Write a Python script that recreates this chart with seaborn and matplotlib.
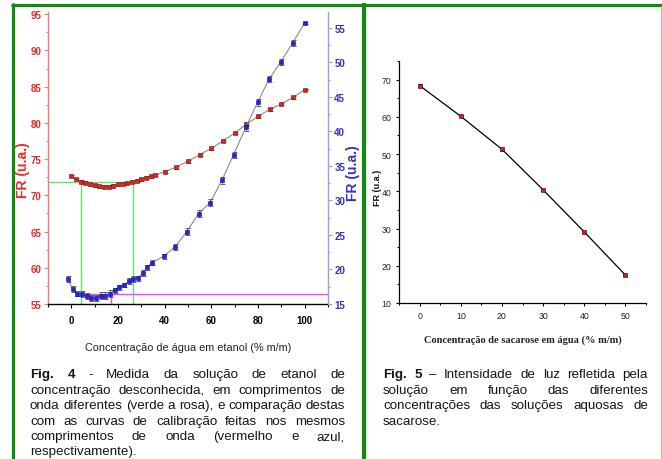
import matplotlib
matplotlib.use("Agg")
import matplotlib.pyplot as plt
from matplotlib.lines import Line2D
from matplotlib.ticker import MultipleLocator
import seaborn as sns
import pandas as pd

# ---------------- data ----------------
# Fig. 4 - red calibration curve (left axis)
red_x = [0, 2, 4, 6, 8, 10, 12, 14, 16, 18, 20, 22, 24, 26, 28, 30, 32, 34, 36,
         40, 45, 50, 55, 60, 65, 70, 75, 80, 85, 90, 95, 100]
red_fr = [72.66, 72.24, 71.87, 71.74, 71.55, 71.37, 71.23, 71.2, 71.2, 71.3, 71.5,
          71.6, 71.7, 71.9, 72.0, 72.2, 72.4, 72.6, 72.8, 73.25, 73.9, 74.7, 75.6,
          76.5, 77.5, 78.6, 79.8, 80.9, 81.85, 82.6, 83.5, 84.6]
red_err = [0.12, 0.18, 0.18, 0.18, 0.2, 0.2, 0.25, 0.25, 0.2, 0.2, 0.2, 0.2, 0.2,
           0.2, 0.2, 0.2, 0.2, 0.2, 0.2, 0.2, 0.2, 0.2, 0.2, 0.2, 0.2, 0.2, 0.25,
           0.25, 0.2, 0.2, 0.2, 0.12]
# Fig. 4 - blue calibration curve (right axis)
blue_x = [-1.5, 0.5, 2.5, 4.5, 6.5, 8.5, 10.5, 12.5, 14.5, 16.5, 18.5, 20.5, 22.5,
          24.5, 26.5, 28.5, 30.5, 32.5, 34.5, 39.5, 44.5, 49.5, 54.5, 59.5, 64.5,
          69.5, 74.8, 79.8, 84.8, 89.8, 94.8, 100]
blue_fr = [18.6, 17.2, 16.5, 16.4, 16.2, 15.9, 15.9, 16.2, 16.2, 16.5, 17.0, 17.4,
           17.7, 18.3, 18.6, 18.7, 19.5, 20.3, 21.0, 21.9, 23.3, 25.5, 28.1, 29.7,
           32.9, 36.6, 40.6, 44.2, 47.6, 50.1, 52.8, 55.7]
blue_err = [0.45, 0.45, 0.4, 0.45, 0.45, 0.4, 0.4, 0.5, 0.5, 0.5, 0.35, 0.3, 0.3,
            0.45, 0.45, 0.3, 0.4, 0.4, 0.4, 0.4, 0.45, 0.45, 0.45, 0.45, 0.45,
            0.45, 0.5, 0.5, 0.45, 0.45, 0.4, 0.15]
# unknown sample readings (green / pink guide lines)
green_fr = 71.9
green_conc = [4.3, 26.3]
pink_fr = 16.45
pink_conc = [4.3, 17.1]

# Fig. 5 - sucrose
suc_x = [0, 10, 20, 30, 40, 50]
suc_fr = [68.4, 60.15, 51.3, 40.4, 29.1, 17.5]
suc_err = [0.3, 0.3, 0.35, 0.35, 0.35, 0.3]

# ---------------- style ----------------
sns.set_theme(style="ticks")
plt.rcParams['font.family'] = ['Liberation Sans', 'DejaVu Sans']

W, H = 662, 460
fig = plt.figure(figsize=(W / 100, H / 100), dpi=100)
fig.patch.set_facecolor('white')


def rect(l, t, r, b):
    return [l / W, 1 - b / H, (r - l) / W, (b - t) / H]


RED_SP = '#f07a7a'
RED_TX = '#e62a2a'
BLUE_SP = '#9d9de6'
BLUE_TX = '#3232c8'
LINE_GRAY = '#8c8c8c'

# ---------------- Fig. 4 ----------------
ax1 = fig.add_axes(rect(48, 13, 328, 305))
ax2 = ax1.twinx()
ax1.set_facecolor('none')

df_red = pd.DataFrame({'x': red_x, 'y': red_fr})
df_blue = pd.DataFrame({'x': blue_x, 'y': blue_fr})

ax1.set_xlim(-10, 110)
ax1.set_ylim(55, 95.3)
ax2.set_ylim(15, 57.3)

# guide lines
ax1.plot([-10, green_conc[1]], [green_fr, green_fr], color='#66e066', lw=1.0, zorder=1)
for gx in green_conc:
    ax1.plot([gx, gx], [55, green_fr], color='#66e066', lw=1.0, zorder=1)
ax2.plot([pink_conc[0], 110], [pink_fr, pink_fr], color='#ff44ff', lw=1.0, zorder=1)
ax2.plot([pink_conc[1], pink_conc[1]], [15, pink_fr], color='#ff44ff', lw=1.0, zorder=1)

sns.lineplot(data=df_red, x='x', y='y', ax=ax1, color=LINE_GRAY, lw=0.8,
             estimator=None, sort=False, zorder=2)
ax1.errorbar(red_x, red_fr, yerr=red_err, fmt='none', ecolor='#505050',
             elinewidth=0.6, capsize=1.8, capthick=0.6, zorder=3)
sns.scatterplot(data=df_red, x='x', y='y', ax=ax1, marker='s', s=7,
                color='#dd2222', edgecolor='#7a1515', linewidth=0.4, zorder=4)

sns.lineplot(data=df_blue, x='x', y='y', ax=ax2, color=LINE_GRAY, lw=0.8,
             estimator=None, sort=False, zorder=2)
ax2.errorbar(blue_x, blue_fr, yerr=blue_err, fmt='none', ecolor='#505050',
             elinewidth=0.6, capsize=1.8, capthick=0.6, zorder=3)
sns.scatterplot(data=df_blue, x='x', y='y', ax=ax2, marker='s', s=7,
                color='#2222ee', edgecolor='#101080', linewidth=0.4, zorder=4)

for a in (ax1, ax2):
    a.spines['top'].set_visible(False)
ax1.spines['right'].set_visible(False)
ax2.spines['left'].set_visible(False)
ax2.spines['bottom'].set_visible(False)
ax1.spines['left'].set_color(RED_SP)
ax1.spines['left'].set_linewidth(1.0)
ax2.spines['right'].set_color(BLUE_SP)
ax2.spines['right'].set_linewidth(1.0)
ax1.spines['bottom'].set_color('black')
ax1.spines['bottom'].set_linewidth(1.0)

ax1.xaxis.set_minor_locator(MultipleLocator(10))
ax1.set_xticks([0, 20, 40, 60, 80, 100])
ax1.yaxis.set_minor_locator(MultipleLocator(2.5))
ax2.yaxis.set_minor_locator(MultipleLocator(2.5))
ax1.set_yticks([55, 60, 65, 70, 75, 80, 85, 90, 95])
ax2.set_yticks([15, 20, 25, 30, 35, 40, 45, 50, 55])

ax1.tick_params(axis='x', which='major', direction='out', length=3, width=0.8,
                color='black', labelcolor='black', pad=5, labelsize=7)
ax1.tick_params(axis='x', which='minor', direction='out', length=2, width=0.8,
                color='black')
ax1.tick_params(axis='y', which='major', direction='out', length=3, width=0.8,
                color=RED_SP, labelcolor=RED_TX, pad=1.5, labelsize=7)
ax1.tick_params(axis='y', which='minor', direction='out', length=1.5, width=0.8,
                color=RED_SP)
ax2.tick_params(axis='y', which='major', direction='out', length=3, width=0.8,
                color=BLUE_SP, labelcolor=BLUE_TX, pad=1.5, labelsize=7)
ax2.tick_params(axis='y', which='minor', direction='out', length=1.5, width=0.8,
                color=BLUE_SP)
for lab in ax1.get_xticklabels() + ax1.get_yticklabels() + ax2.get_yticklabels():
    lab.set_fontweight('bold')

ax1.set_xlabel('Concentração de água em etanol (% m/m)', fontsize=7.8,
               color='#222222')
ax1.xaxis.set_label_coords(0.5, (305 - 348) / 292)
ax1.xaxis.label.set_va('center')
ax1.set_ylabel('FR (u.a.)', fontsize=10, fontweight='bold', color=RED_TX)
ax1.yaxis.set_label_coords((23 - 48) / 280, (305 - 170) / 292)
ax1.yaxis.label.set_va('center')
ax2.set_ylabel('FR (u.a.)', fontsize=10, fontweight='bold', color=BLUE_TX,
               rotation=90)
ax2.yaxis.set_label_coords((353 - 48) / 280, (305 - 173) / 292)
ax2.yaxis.label.set_va('center')

# ---------------- Fig. 5 ----------------
ax3 = fig.add_axes(rect(399, 62, 646, 304))
df_suc = pd.DataFrame({'x': suc_x, 'y': suc_fr})
sns.lineplot(data=df_suc, x='x', y='y', ax=ax3, color='black', lw=0.9,
             estimator=None, sort=False, zorder=2)
ax3.errorbar(suc_x, suc_fr, yerr=suc_err, fmt='none', ecolor='#202020',
             elinewidth=0.6, capsize=1.6, capthick=0.6, zorder=3)
sns.scatterplot(data=df_suc, x='x', y='y', ax=ax3, marker='s', s=5,
                color='#cc2020', edgecolor='#300000', linewidth=0.4, zorder=4)
ax3.set_xlim(-5, 55)
ax3.set_ylim(10, 75)
ax3.set_xticks([0, 10, 20, 30, 40, 50])
ax3.set_yticks([10, 20, 30, 40, 50, 60, 70])
ax3.xaxis.set_minor_locator(MultipleLocator(5))
ax3.yaxis.set_minor_locator(MultipleLocator(5))
ax3.spines['top'].set_visible(False)
ax3.spines['right'].set_visible(False)
for s in ('left', 'bottom'):
    ax3.spines[s].set_color('black')
    ax3.spines[s].set_linewidth(0.9)
ax3.tick_params(which='major', direction='out', length=2.5, width=0.8,
                color='black', labelsize=6.3, pad=3)
ax3.tick_params(which='minor', direction='out', length=1.5, width=0.7,
                color='black')
ax3.set_xlabel('Concentração de sacarose em água (% m/m)', fontsize=7.5,
               fontweight='bold', family=['Liberation Serif', 'DejaVu Serif'],
               color='#222222')
ax3.xaxis.set_label_coords(0.5, (304 - 340) / 242)
ax3.xaxis.label.set_va('center')
ax3.set_ylabel('FR (u.a.)', fontsize=6.5, fontweight='bold', color='#111111')
ax3.yaxis.set_label_coords((378 - 399) / 247, (304 - 188) / 242)
ax3.yaxis.label.set_va('center')

# ---------------- panel borders ----------------
DKG = '#128a12'


def hline(y, x0, x1, lw, color):
    fig.add_artist(Line2D([x0 / W, x1 / W], [1 - y / H, 1 - y / H], lw=lw,
                          color=color, solid_capstyle='butt'))


def vline(x, y0, y1, lw, color):
    fig.add_artist(Line2D([x / W, x / W], [1 - y0 / H, 1 - y1 / H], lw=lw,
                          color=color, solid_capstyle='butt'))


hline(5.5, 10.5, 662, 2.3, DKG)
vline(12.5, 4, 460, 2.3, DKG)
vline(364, 4, 460, 3.0, DKG)
vline(661, 7, 460, 0.8, '#8fd08f')

# ---------------- captions ----------------
CAP_SIZE = 9.6
renderer = fig.canvas.get_renderer()


def paragraph(lines, x0, x1, y_first, dy):
    sp = fig.text(0, 0, 'a a', fontsize=CAP_SIZE)
    sa = fig.text(0, 0, 'aa', fontsize=CAP_SIZE)
    space = sp.get_window_extent(renderer).width - sa.get_window_extent(renderer).width
    sp.remove()
    sa.remove()
    for i, words in enumerate(lines):
        y = 1 - (y_first + i * dy) / H
        texts = []
        for w, b in words:
            t = fig.text(0, y, w, fontsize=CAP_SIZE, va='baseline', ha='left',
                         fontweight='bold' if b else 'normal', color='#151515')
            texts.append(t)
        widths = [t.get_window_extent(renderer).width for t in texts]
        last = (i == len(lines) - 1)
        if last or len(texts) == 1:
            gap = space
        else:
            gap = max(space * 0.9, ((x1 - x0) - sum(widths)) / (len(texts) - 1))
        x = x0
        for t, wd in zip(texts, widths):
            t.set_x(x / W)
            x += wd + gap


def mk(s, bold_first=0):
    ws = s.split(' ')
    return [(w, k < bold_first) for k, w in enumerate(ws)]


fig4 = [
    mk('Fig. 4 - Medida da solução de etanol de', 2),
    mk('concentração desconhecida, em comprimentos de'),
    mk('onda diferentes (verde a rosa), e comparação destas'),
    mk('com as curvas de calibração feitas nos mesmos'),
    mk('comprimentos de onda (vermelho e azul,'),
    mk('respectivamente).'),
]
fig5 = [
    mk('Fig. 5 – Intensidade de luz refletida pela', 2),
    mk('solução em função das diferentes'),
    mk('concentrações das soluções aquosas de'),
    mk('sacarose.'),
]
paragraph(fig4, 30, 345, 378.5, 15.4)
paragraph(fig5, 383, 648, 378.5, 15.4)

fig.savefig('out.png', dpi=100, facecolor='white')
